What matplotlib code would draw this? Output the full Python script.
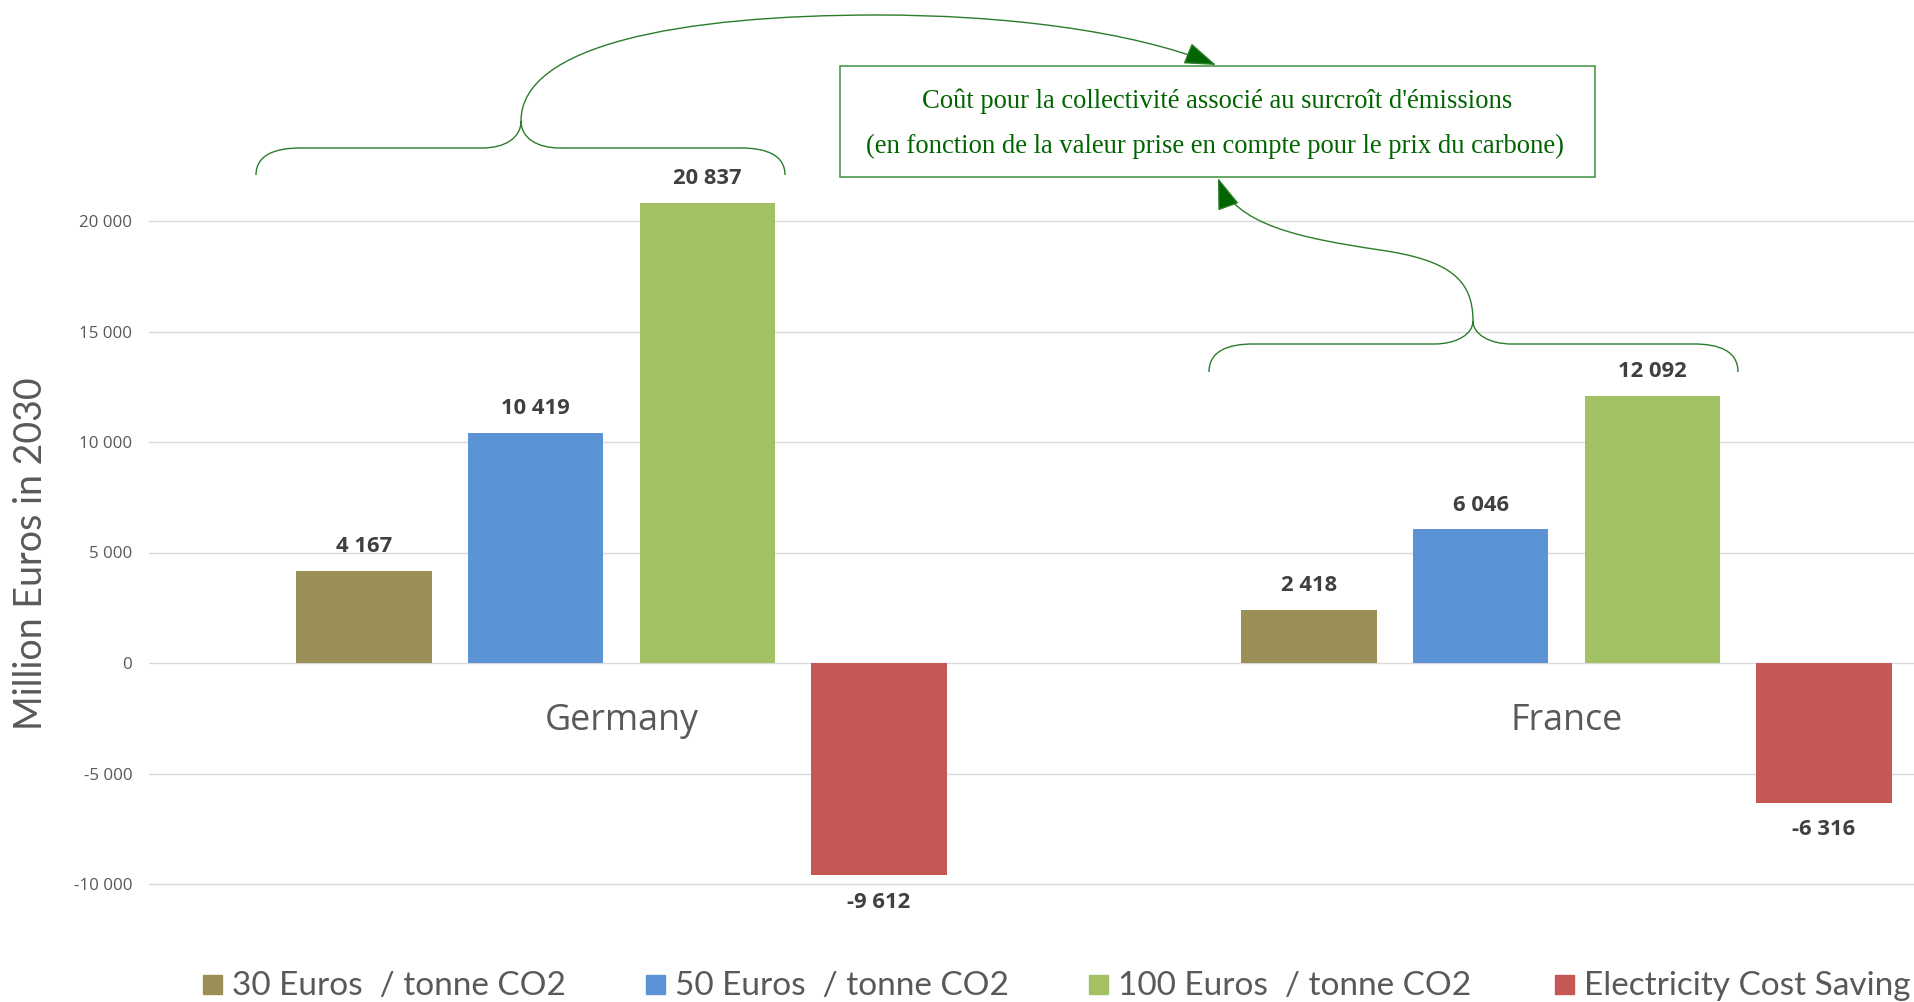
import matplotlib.pyplot as plt
import numpy as np
from matplotlib.patches import Rectangle, FancyArrowPatch, PathPatch
from matplotlib.path import Path

# data
countries = ['Germany', 'France']
series_names = ['30 Euros  / tonne CO2', '50 Euros  / tonne CO2',
                '100 Euros  / tonne CO2', 'Electricity Cost Saving']
co2_30 = [4167, 2418]
co2_50 = [10419, 6046]
co2_100 = [20837, 12092]
elec_saving = [-9612, -6316]
colors = ['#9A8F57', '#5B93D6', '#A1C162', '#C55854']
yticks = [-10000, -5000, 0, 5000, 10000, 15000, 20000]

W, H = 1914, 1002
fig = plt.figure(figsize=(W / 100, H / 100), dpi=100)

# the plot area runs past the right edge of the picture (cropped screenshot)
# 5000 units = 110.5 px, zero line at y = 663 px
ax = fig.add_axes([149 / W, (H - 895.05) / H, 1890 / W, (895.05 - 110.5) / H])
ax.set_xlim(-0.5, 1.5)
ax.set_ylim(-10500, 25000)
ax.set_yticks(yticks)
ax.set_yticklabels([f'{v:,}'.replace(',', ' ') for v in yticks],
                   fontsize=12.2, color='#595959', family='Open Sans')
ax.tick_params(axis='y', length=0, pad=12)
ax.set_xticks([])
for s in ax.spines.values():
    s.set_visible(False)
ax.grid(axis='y', color='#d9d9d9', lw=1)
ax.set_axisbelow(True)

x = np.arange(len(countries))
pitch = 0.1817
width = 0.1434
all_series = [co2_30, co2_50, co2_100, elec_saving]
for i, (vals, col) in enumerate(zip(all_series, colors)):
    xs = x + (i - 1.5) * pitch
    ax.bar(xs, vals, width, color=col, zorder=2)
    for xv, v in zip(xs, vals):
        off = 17.5 if v > 0 else -19.5
        ax.annotate(f'{v:,}'.replace(',', ' '), (xv, v), xytext=(0, off),
                    textcoords='offset points', ha='center', va='center',
                    fontsize=15.8, fontweight='bold', color='#404040',
                    family='Open Sans', annotation_clip=False)

for xi, name in zip(x, countries):
    ax.text(xi, -2630, name, ha='center', va='center', fontsize=25.8,
            color='#595959', family='Open Sans')

fig.text(31 / W, 1 - 554 / H, 'Million Euros in 2030', rotation=90,
         ha='center', va='center', fontsize=27, color='#595959', family='Lato')

# legend, drawn by hand because it is cut off at the right
leg_x = [203, 646, 1089, 1555]
for lx, name, col in zip(leg_x, series_names, colors):
    fig.patches.append(Rectangle((lx / W, 1 - 994 / H), 19 / W, 19 / H,
                                 transform=fig.transFigure, color=col))
    fig.text((lx + 29) / W, 1 - 986 / H, name, ha='left', va='center',
             fontsize=24, color='#595959', family='Lato')

# overlay in pixel coords for the braces, arrows and note box
ov = fig.add_axes([0, 0, 1, 1], zorder=5)
ov.set_xlim(0, W)
ov.set_ylim(H, 0)
ov.axis('off')
ov.patch.set_alpha(0)

green = '#006400'
line_green = '#2b7d2b'

ov.add_patch(Rectangle((840, 66), 755, 111, fill=False, ec='#3c8f3c', lw=1.1))
ov.text(1217, 101, "Coût pour la collectivité associé au surcroît d'émissions",
        ha='center', va='center', fontsize=19.2, color=green, family='Liberation Serif')
ov.text(1215, 146, '(en fonction de la valeur prise en compte pour le prix du carbone)',
        ha='center', va='center', fontsize=19.2, color=green, family='Liberation Serif')


def brace(x0, x1, xc, yend, yh, ycusp):
    verts = [(x0, yend), (x0, yh + 7), (x0 + 19, yh), (x0 + 44, yh),
             (xc - 39, yh),
             (xc - 16, yh), (xc, yh - 10), (xc, ycusp),
             (xc, yh - 10), (xc + 16, yh), (xc + 39, yh),
             (x1 - 44, yh),
             (x1 - 19, yh), (x1, yh + 7), (x1, yend)]
    codes = [Path.MOVETO, Path.CURVE4, Path.CURVE4, Path.CURVE4,
             Path.LINETO,
             Path.CURVE4, Path.CURVE4, Path.CURVE4,
             Path.CURVE4, Path.CURVE4, Path.CURVE4,
             Path.LINETO,
             Path.CURVE4, Path.CURVE4, Path.CURVE4]
    ov.add_patch(PathPatch(Path(verts, codes), fill=False, ec=line_green, lw=1.0))


brace(256, 785, 521, 175, 148, 121)
brace(1209, 1738, 1473, 372, 344, 321)

arc1 = Path([(521, 121), (521, 45), (680, 15), (878, 15),
             (1000, 15), (1130, 30), (1216, 65)],
            [Path.MOVETO, Path.CURVE4, Path.CURVE4, Path.CURVE4,
             Path.CURVE4, Path.CURVE4, Path.CURVE4])
arc2 = Path([(1473, 321), (1473, 280), (1450, 260), (1380, 250),
             (1300, 238), (1235, 225), (1218, 178)],
            [Path.MOVETO, Path.CURVE4, Path.CURVE4, Path.CURVE4,
             Path.CURVE4, Path.CURVE4, Path.CURVE4])
for p in (arc1, arc2):
    ov.add_patch(FancyArrowPatch(path=p, arrowstyle='-|>,head_length=20,head_width=7',
                                 mutation_scale=1, color=line_green, fc=green,
                                 lw=1.0, transform=ov.transData))

fig.savefig('out.png', dpi=100)
